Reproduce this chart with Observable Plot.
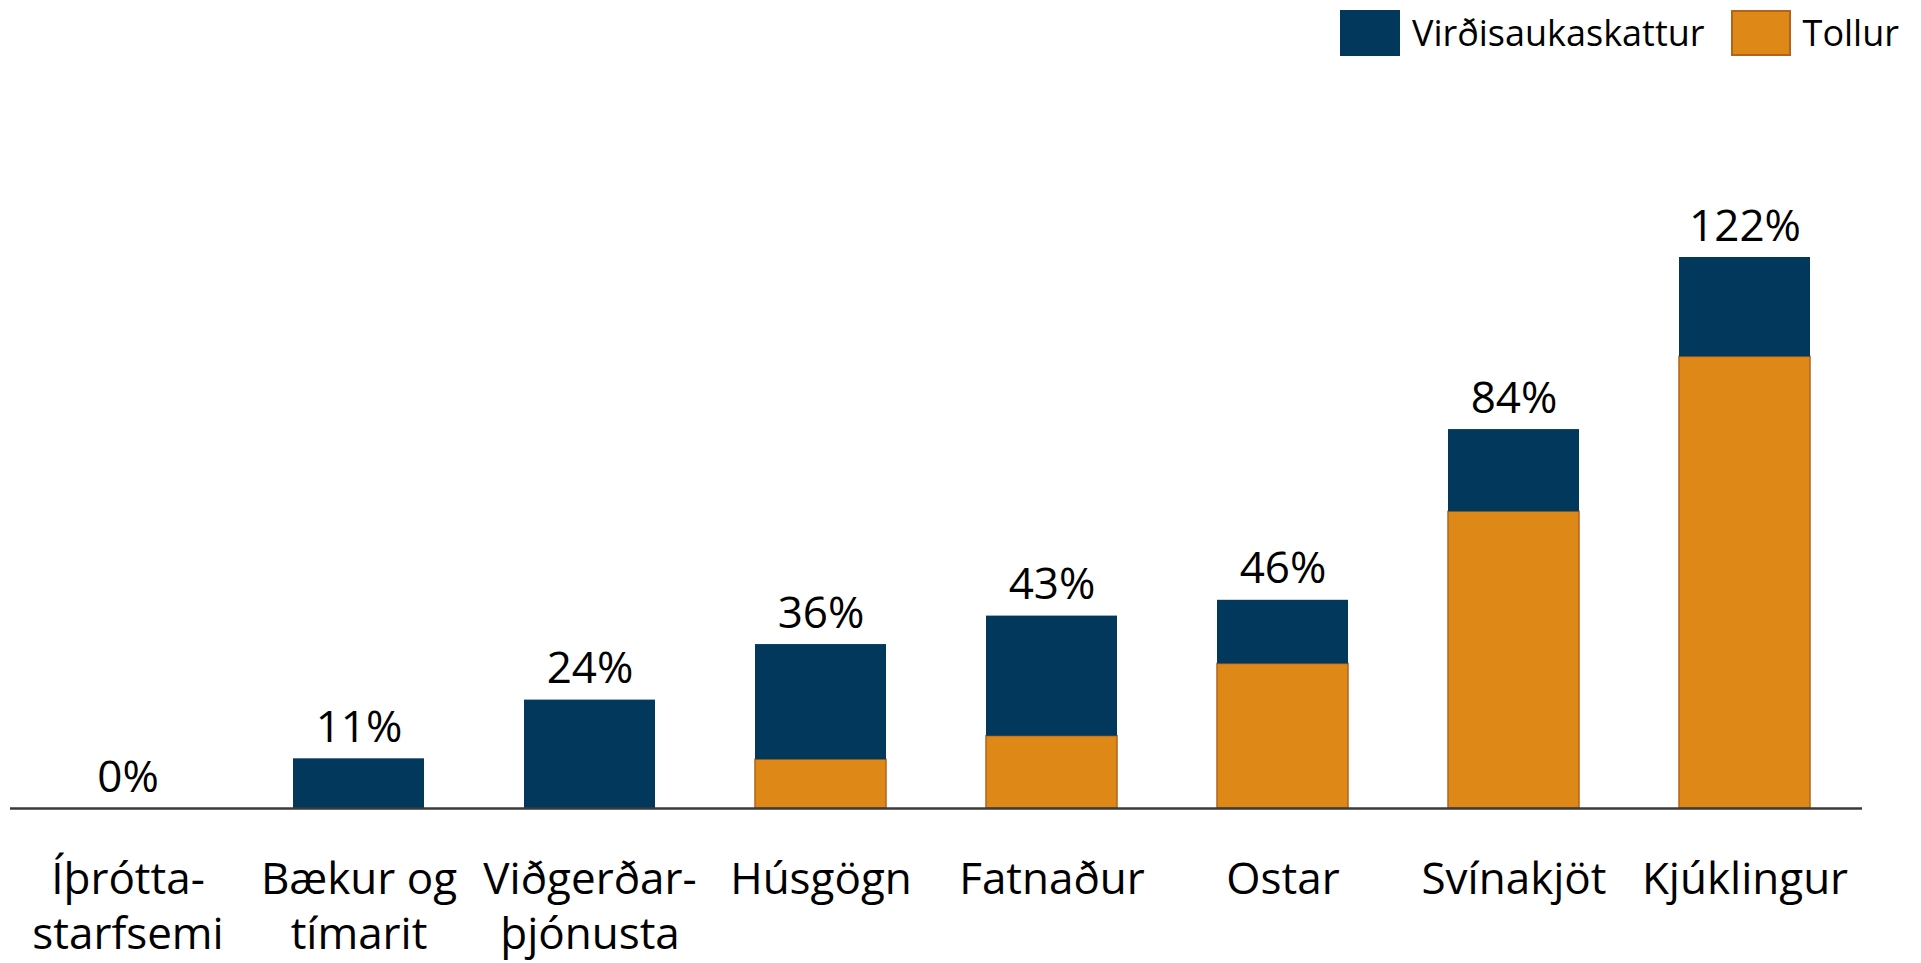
<!DOCTYPE html>
<html>
<head>
<meta charset="utf-8">
<script src="https://cdn.jsdelivr.net/npm/d3@7"></script>
<script src="https://cdn.jsdelivr.net/npm/@observablehq/plot@0.6"></script>
<style>
  html, body { margin: 0; padding: 0; background: #fff; }
  body { width: 1921px; height: 963px; overflow: hidden; font-family: "Open Sans", sans-serif; }
  #legend { height: 60px; box-sizing: border-box; padding-top: 10px; padding-right: 22px;
            display: flex; justify-content: flex-end; align-items: flex-start; }
  .sw { width: 60px; height: 46px; box-sizing: border-box; margin-right: 12px; }
  .lt { font-size: 36px; line-height: 46px; color: #000; margin-right: 26px; }
  .lt:last-child { margin-right: 0; }
</style>
</head>
<body>
<div id="legend"></div>
<div id="chart"></div>
<script>
const categories = ["Íþrótta-\nstarfsemi", "Bækur og\ntímarit", "Viðgerðar-\nþjónusta", "Húsgögn", "Fatnaður", "Ostar", "Svínakjöt", "Kjúklingur"];
const tollur = [0, 0, 0, 10.8, 16, 32, 65.7, 100];
const vat = [0, 11, 24, 25.5, 26.6, 14.1, 18.2, 22];
const totalLabels = ["0%", "11%", "24%", "36%", "43%", "46%", "84%", "122%"];
const seriesNames = ["Virðisaukaskattur", "Tollur"];
const seriesColors = ["#02385b", "#de8817"];
const seriesStrokes = ["#02385b", "#b0641c"];

const legend = document.getElementById("legend");
seriesNames.forEach((name, i) => {
  const sw = document.createElement("div");
  sw.className = "sw";
  sw.style.background = seriesColors[i];
  sw.style.border = i === 1 ? `2px solid ${seriesStrokes[i]}` : "none";
  const t = document.createElement("div");
  t.className = "lt";
  t.textContent = name;
  legend.appendChild(sw);
  legend.appendChild(t);
});

const long = [];
categories.forEach((c, i) => {
  long.push({cat: c, series: "Tollur", value: tollur[i]});
  long.push({cat: c, series: "Virðisaukaskattur", value: vat[i]});
});
const totals = categories.map((c, i) => ({cat: c, total: tollur[i] + vat[i], label: totalLabels[i]}));

const chart = Plot.plot({
  width: 1921,
  height: 903,
  marginTop: 197,
  marginBottom: 155,
  marginLeft: 10,
  marginRight: 59,
  style: {fontFamily: "Open Sans, sans-serif", background: "#fff"},
  x: {domain: categories, paddingInner: 0.431, paddingOuter: 0.2155, axis: null},
  y: {domain: [0, 122], axis: null},
  color: {domain: seriesNames, range: seriesColors},
  marks: [
    Plot.barY(long, Plot.stackY({
      x: "cat", y: "value", fill: "series", order: null,
      stroke: d => d.series === "Tollur" ? seriesStrokes[1] : "none",
      strokeWidth: 1.5
    })),
    Plot.ruleY([0], {stroke: "#3a3a3a", strokeWidth: 2.5}),
    Plot.text(totals, {x: "cat", y: "total", text: "label", lineAnchor: "bottom", dy: -17, fontSize: 44, fill: "#000"}),
    Plot.text(categories, {x: d => d, y: () => 0, text: d => d, lineAnchor: "top", dy: 46, lineHeight: 1.25, fontSize: 44, fill: "#000"})
  ]
});
document.getElementById("chart").appendChild(chart);
</script>
</body>
</html>
